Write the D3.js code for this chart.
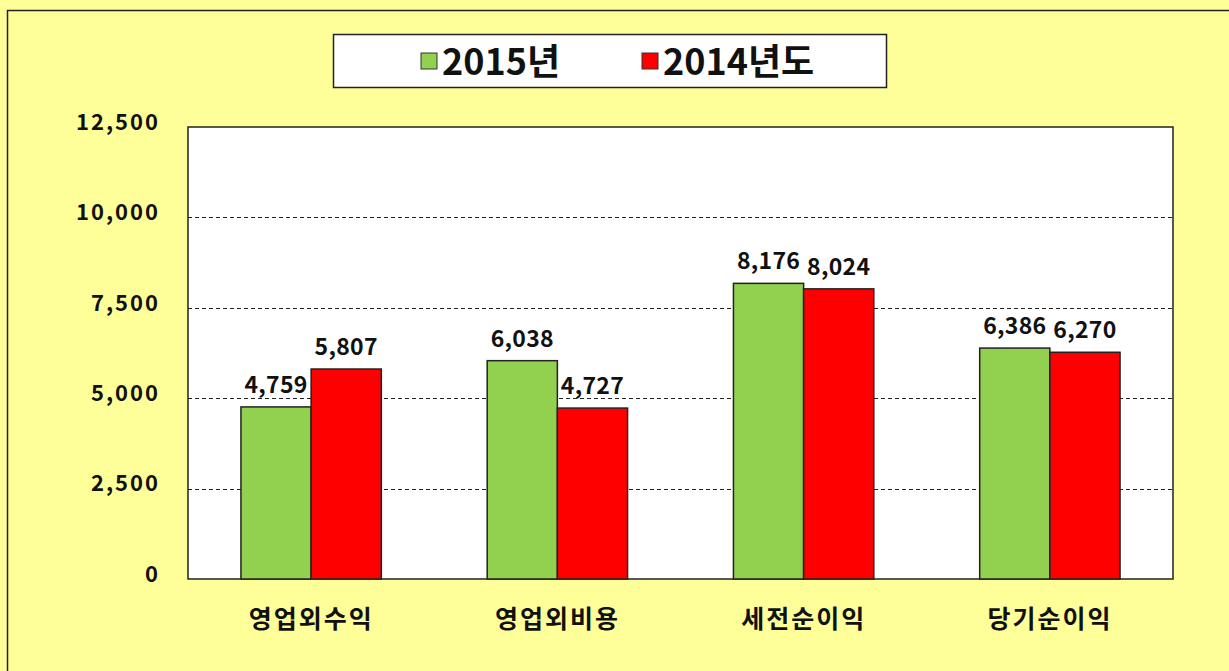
<!DOCTYPE html>
<html>
<head>
<meta charset="utf-8">
<script src="https://cdn.jsdelivr.net/npm/d3@7/dist/d3.min.js"></script>
<style>
  html, body { margin: 0; padding: 0; background: #ffff99; }
  svg { display: block; }
  text { font-family: "Noto Sans CJK KR", "Noto Sans", sans-serif; font-weight: 700; fill: #111; }
</style>
</head>
<body>
<div id="chart"></div>
<script>
const categories = ["영업외수익", "영업외비용", "세전순이익", "당기순이익"];
const seriesNames = ["2015년", "2014년도"];
const values2015 = [4759, 6038, 8176, 6386];
const values2014 = [5807, 4727, 8024, 6270];
const yTicks = [0, 2500, 5000, 7500, 10000, 12500];

const W = 1229, H = 671;
const M = { top: 127, right: 56, bottom: 92, left: 188 };
const COLORS = ["#92d050", "#ff0000"];

const svg = d3.select("#chart").append("svg").attr("width", W).attr("height", H);

// outer chart frame (cut off at right and bottom in the original)
svg.append("rect").attr("x", 7.5).attr("y", 10.5).attr("width", W + 20).attr("height", H + 20)
  .attr("fill", "#ffff99").attr("stroke", "#222").attr("stroke-width", 1.5);

const x0 = d3.scaleBand().domain(categories).range([M.left, W - M.right]).paddingInner(0.43).paddingOuter(0.215);
const x1 = d3.scaleBand().domain(seriesNames).range([0, x0.bandwidth()]);
const y = d3.scaleLinear().domain([0, 12500]).range([H - M.bottom, M.top]);

// plot area
svg.append("rect").attr("x", M.left).attr("y", M.top)
  .attr("width", W - M.right - M.left).attr("height", H - M.bottom - M.top)
  .attr("fill", "#fff").attr("stroke", "#222").attr("stroke-width", 1.5);

// dashed gridlines
svg.append("g").selectAll("line").data(yTicks.filter((d) => d > 0 && d < 12500)).join("line")
  .attr("x1", M.left).attr("x2", W - M.right)
  .attr("y1", (d) => Math.round(y(d)) + 0.5).attr("y2", (d) => Math.round(y(d)) + 0.5)
  .attr("stroke", "#222").attr("stroke-width", 1).attr("stroke-dasharray", "4,3");

// y axis labels
const yAxis = d3.axisLeft(y).tickValues(yTicks).tickSize(0).tickPadding(28)
  .tickFormat(d3.format(","));
svg.append("g").attr("transform", `translate(${M.left},0)`).call(yAxis)
  .call((g) => g.select(".domain").remove())
  .selectAll("text").style("font-size", "22px").style("letter-spacing", "2px").attr("dy", "0.1em");

// bars
const rows = categories.map((c, i) => ({ cat: c, vals: [values2015[i], values2014[i]] }));
const groups = svg.append("g").selectAll("g").data(rows).join("g")
  .attr("transform", (d) => `translate(${x0(d.cat)},0)`);

groups.selectAll("rect").data((d) => d.vals.map((v, j) => ({ key: seriesNames[j], v, j }))).join("rect")
  .attr("x", (d) => x1(d.key)).attr("width", x1.bandwidth())
  .attr("y", (d) => y(d.v)).attr("height", (d) => y(0) - y(d.v))
  .attr("fill", (d) => COLORS[d.j]).attr("stroke", "#222").attr("stroke-width", 1.5);

groups.selectAll("text.val").data((d) => d.vals.map((v, j) => ({ key: seriesNames[j], v, j }))).join("text")
  .attr("class", "val")
  .attr("x", (d) => x1(d.key) + x1.bandwidth() / 2)
  .attr("y", (d) => y(d.v) - 14)
  .attr("text-anchor", "middle").style("font-size", "23px").style("letter-spacing", "0.3px")
  .text((d) => d3.format(",")(d.v));

// category axis
const xAxis = d3.axisBottom(x0).tickSize(0).tickPadding(30);
svg.append("g").attr("transform", `translate(0,${H - M.bottom})`).call(xAxis)
  .call((g) => g.select(".domain").remove())
  .selectAll("text").style("font-size", "25px").style("letter-spacing", "2px").attr("dy", "0.75em");

// legend
const lg = svg.append("g");
lg.append("rect").attr("x", 333.5).attr("y", 34.5).attr("width", 553).attr("height", 53)
  .attr("fill", "#fff").attr("stroke", "#222").attr("stroke-width", 1.5);
const legendX = [421, 642];
seriesNames.forEach((s, i) => {
  lg.append("rect").attr("x", legendX[i]).attr("y", 53).attr("width", 16).attr("height", 16)
    .attr("fill", COLORS[i]).attr("stroke", "#333").attr("stroke-width", 1);
  lg.append("text").attr("x", legendX[i] + 21).attr("y", 75).style("font-size", "36px").text(s);
});
</script>
</body>
</html>
